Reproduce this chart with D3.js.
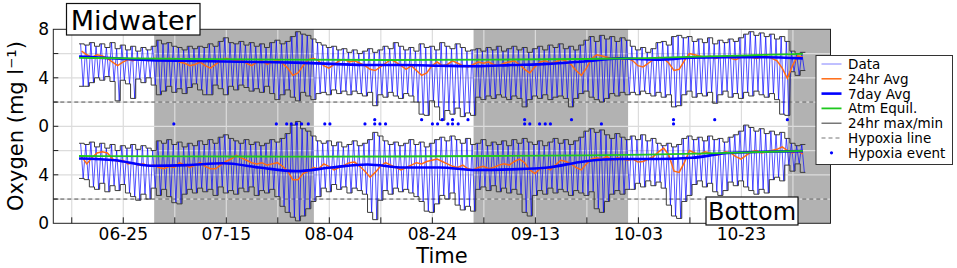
<!DOCTYPE html>
<html>
<head>
<meta charset="utf-8">
<script src="https://cdn.jsdelivr.net/npm/d3@7"></script>
<style>
  body { margin: 0; background: #fff; }
  text { font-family: "DejaVu Sans", sans-serif; }
</style>
</head>
<body>
<script>
const WIDTH = 957;
const HEIGHT = 268;

// --- data (one value per day, first day starts 2016-06-16 10:00) ---
const startTime = new Date(2016, 5, 16, 10);

// Midwater 24hr max / min
const topMax = [
  6.8, 6.7, 6.9, 6.6, 6.8, 6.5, 6.9, 6.4, 6.7, 6.3, 6.6, 6.2, 6.5, 6.3, 6.6,
  7.1, 6.8, 6.9, 6.6, 6.5, 6.3, 6.6, 6.4, 6.6, 6.5, 6.8, 6.6, 7.0, 7.3, 6.9, 6.8, 7.0, 6.7, 6.9, 6.6, 6.8, 6.5, 6.9, 7.1, 6.8, 7.0, 7.4, 7.8, 7.6, 7.5, 7.2, 6.9,
  6.7, 6.5, 6.6, 6.3, 6.4, 6.1, 6.3, 6.0, 6.2, 6.4, 6.1, 6.3, 6.6, 6.4, 6.9, 6.6, 6.3, 6.5, 6.2, 6.8, 6.5, 6.6, 6.3, 6.9, 6.6, 6.4, 6.8, 6.5, 6.2, 6.3,
  6.4, 6.2, 6.5, 6.3, 6.6, 6.2, 6.4, 6.6, 6.3, 6.5, 6.1, 6.4, 6.6, 6.3, 6.7, 6.5, 6.8, 6.4, 6.6, 6.3, 6.7, 7.1, 7.4, 7.0, 7.5, 7.2, 7.4, 7.0, 7.3, 7.1,
  6.6, 6.3, 6.5, 6.1, 6.4, 6.9, 7.0, 6.7, 7.4, 7.5, 7.3, 7.4, 7.0, 7.2, 6.9, 7.3, 6.8, 7.1, 6.9, 7.2, 7.0, 7.3, 7.6, 7.8, 7.5, 7.7, 7.4, 7.6, 7.2, 7.4, 7.0, 6.2, 6.0, 6.1
];
const topMin = [
  3.3, 3.3, 3.6, 4.0, 3.8, 4.1, 3.7, 2.1, 3.8, 3.5, 2.3, 3.9, 3.6, 4.0, 3.4,
  2.6, 2.9, 3.3, 2.8, 3.1, 2.7, 3.2, 3.5, 3.0, 2.6, 2.6, 3.4, 3.1, 2.6, 3.3, 3.0, 3.4, 3.2, 2.9, 3.1, 2.8, 3.3, 2.7, 2.2, 2.6, 3.0, 2.4, 2.1, 2.8, 2.5, 2.2, 2.7,
  2.8, 2.6, 3.0, 2.7, 2.9, 2.6, 2.9, 2.7, 2.5, 2.8, 1.7, 2.6, 2.4, 2.8, 2.5, 2.3, 2.7, 2.5, 2.0, 1.0, 0.9, 2.1, 1.6, 0.5, 1.3, 1.0, 1.5, 0.8, 1.1, 0.9,
  2.4, 2.2, 2.5, 2.3, 2.6, 2.4, 2.2, 2.5, 2.3, 1.6, 2.2, 2.5, 2.3, 2.6, 2.2, 2.4, 2.5, 2.3, 1.6, 2.3, 2.7, 2.9, 2.4, 2.2, 2.0, 2.3, 2.7, 2.5, 2.8, 2.6,
  2.8, 2.6, 2.9, 2.7, 2.5, 2.8, 2.4, 2.6, 1.6, 1.7, 2.6, 2.9, 2.4, 2.7, 2.5, 2.8, 1.9, 2.6, 2.9, 2.4, 2.7, 2.3, 2.8, 2.5, 2.9, 2.6, 2.4, 2.7, 2.2, 1.0, 0.9, 4.5, 4.2, 4.6
];
// Bottom 24hr max / min
const botMax = [
  6.6, 6.5, 6.7, 6.3, 6.6, 6.2, 6.5, 6.0, 6.4, 6.2, 6.5, 6.1, 6.4, 6.2, 6.0,
  6.8, 6.6, 6.9, 6.5, 6.7, 6.3, 6.6, 6.4, 6.8, 6.5, 6.9, 6.6, 7.1, 7.3, 7.0, 6.8, 6.6, 6.9, 6.5, 6.7, 6.4, 6.6, 6.9, 6.7, 7.0, 7.4, 8.1, 8.4, 7.8, 7.6, 7.2, 6.8,
  6.6, 6.8, 6.4, 6.7, 6.3, 6.5, 6.8, 6.4, 6.6, 6.9, 7.5, 7.2, 6.8, 6.5, 6.7, 6.4, 6.6, 6.9, 6.5, 6.7, 6.3, 6.6, 6.9, 7.1, 6.8, 7.2, 6.9, 6.6, 7.0, 6.5,
  6.6, 6.9, 6.4, 6.7, 6.5, 6.8, 6.4, 6.9, 6.6, 7.0, 6.7, 6.5, 6.8, 6.4, 6.7, 7.0, 6.6, 6.9, 6.5, 6.8, 7.1, 7.6, 7.8, 7.5, 7.7, 7.3, 7.0, 7.4, 7.1, 6.9,
  7.2, 6.9, 7.3, 6.8, 7.0, 6.6, 6.4, 6.6, 6.3, 6.5, 7.0, 7.2, 6.9, 7.1, 6.8, 7.2, 6.9, 7.0, 6.7, 7.1, 7.3, 7.6, 8.1, 7.9, 7.6, 7.8, 7.4, 7.6, 7.3, 7.5, 7.0, 6.6, 6.4, 6.5
];
const botMin = [
  3.7, 3.6, 3.0, 2.8, 3.3, 2.6, 3.1, 2.7, 3.2, 2.5, 2.2, 1.9, 2.4, 2.0, 2.9,
  2.3, 2.8, 2.2, 1.7, 1.6, 2.4, 2.8, 2.5, 2.9, 2.6, 2.8, 2.3, 3.0, 2.5, 2.7, 2.4, 2.9, 2.6, 3.0, 2.3, 2.7, 2.5, 2.8, 2.2, 1.4, 0.9, 0.5, 0.2, 0.6, 1.2, 1.8, 2.2,
  2.9, 2.6, 3.2, 2.8, 3.0, 2.5, 2.9, 2.7, 2.4, 0.9, 0.3, 1.9, 2.7, 2.4, 2.9, 2.6, 2.8, 2.5, 2.2, 1.8, 1.0, 0.9, 1.6, 2.3, 2.0, 2.5, 1.5, 1.1, 1.4, 1.0,
  2.8, 3.0, 2.7, 3.1, 2.6, 2.9, 2.5, 2.8, 2.4, 0.9, 0.6, 2.3, 2.7, 2.4, 2.9, 2.5, 2.8, 2.6, 2.3, 2.7, 2.5, 2.3, 2.6, 1.2, 0.9, 1.8, 2.4, 2.7, 2.4, 2.8,
  2.8, 3.3, 3.0, 3.5, 3.1, 3.4, 2.9, 1.5, 0.6, 0.4, 1.8, 2.3, 3.2, 3.5, 3.0, 3.3, 2.6, 2.3, 2.7, 3.4, 3.1, 3.5, 3.0, 2.7, 2.4, 2.8, 2.5, 3.6, 3.8, 3.5, 4.8, 4.3, 4.9, 4.2
];
// 24hr averages
const topAvg24 = [
  6.2, 5.9, 5.7, 5.9, 5.8, 5.6, 5.3, 5.0, 5.3, 5.5, 5.4, 5.6, 5.5, 5.4, 5.6,
  5.5, 5.4, 5.6, 5.5, 5.3, 5.2, 5.0, 5.1, 5.3, 5.0, 4.8, 5.1, 5.4, 5.6, 5.5, 5.4, 5.5, 5.2, 5.0, 5.3, 5.4, 5.1, 5.3, 5.5, 5.2, 4.8, 4.2, 4.4, 5.0, 5.5,
  5.6, 5.4, 5.0, 4.8, 5.1, 5.4, 5.5, 5.3, 5.4, 5.2, 5.0, 4.7, 4.6, 4.9, 5.2, 5.5, 5.3, 5.0, 4.7, 5.0, 4.6, 4.2, 4.4, 5.0, 5.3, 5.0, 5.1, 5.4, 5.2, 5.0, 4.9, 5.1,
  5.3, 5.2, 5.3, 5.1, 5.0, 5.2, 5.3, 5.4, 5.1, 4.7, 4.4, 4.9, 5.3, 5.4, 5.2, 5.3, 5.5, 5.4, 5.1, 4.6, 4.2, 4.8, 5.6, 5.9, 5.8, 5.7, 5.6, 5.7, 5.5, 5.6,
  5.4, 5.0, 4.9, 5.2, 5.5, 5.7, 5.6, 5.2, 4.6, 4.7, 5.4, 6.0, 5.9, 5.8, 5.7, 5.8, 5.6, 5.7, 5.8, 5.6, 5.5, 5.7, 5.8, 5.7, 5.6, 5.7, 5.8, 5.6, 5.4, 4.8, 3.95, 5.0, 5.8, 5.7
];
const botAvg24 = [
  5.5, 4.9, 5.4, 5.8, 5.9, 5.8, 5.3, 5.1, 5.2, 4.9, 5.0, 4.8, 4.9, 4.7, 4.8,
  4.6, 4.5, 4.7, 4.6, 5.0, 4.8, 4.6, 4.8, 5.0, 4.7, 4.5, 4.5, 4.8, 5.1, 5.3, 5.6, 5.4, 5.2, 5.0, 4.9, 5.0, 4.8, 4.9, 5.0, 4.7, 4.3, 3.6, 3.6, 4.1, 4.3,
  4.6, 4.5, 4.9, 4.7, 4.4, 4.6, 4.8, 5.0, 5.05, 4.7, 4.3, 3.8, 4.2, 4.7, 5.0, 4.8, 4.6, 4.4, 4.6, 4.8, 5.0, 4.9, 5.1, 5.2, 5.3, 5.1, 4.9, 4.7, 4.6, 4.8, 4.5, 4.4,
  4.6, 4.7, 4.5, 4.6, 4.8, 4.9, 4.8, 5.1, 5.3, 5.0, 4.4, 4.1, 4.5, 4.6, 4.4, 4.8, 5.2, 5.1, 4.9, 4.6, 4.4, 4.9, 5.3, 5.4, 5.3, 5.5, 5.2, 5.4, 5.3, 5.2,
  5.3, 5.05, 5.1, 5.3, 5.5, 5.9, 6.2, 5.6, 4.3, 4.2, 5.0, 6.0, 5.8, 5.7, 5.9, 5.8, 5.6, 5.7, 5.9, 5.8, 5.5, 5.3, 5.6, 5.9, 6.0, 5.8, 5.9, 6.0, 6.1, 6.3, 6.0, 5.8, 6.0, 5.7
];
// 7 day averages (day index, values)
const sevenDayIdx = [0, 7, 14, 21, 28, 35, 42, 49, 56, 63, 70, 77, 84, 91, 98, 105, 112, 119, 126, 133, 140.5];
const topSevenDay = [5.75, 5.6, 5.45, 5.4, 5.35, 5.3, 5.25, 5.15, 5.05, 5.05, 5.0, 4.95, 5.05, 5.15, 5.35, 5.6, 5.5, 5.65, 5.7, 5.7, 5.6];
const botSevenDay = [5.35, 5.2, 4.75, 4.8, 4.95, 4.6, 4.3, 4.6, 4.85, 4.6, 4.6, 4.4, 4.45, 4.6, 5.1, 5.3, 5.3, 5.4, 5.8, 5.9, 5.95];
// atmospheric equilibrium
const atmIdx = [0, 20, 40, 60, 80, 100, 110, 120, 130, 140.5];
const topAtm = [5.65, 5.55, 5.5, 5.45, 5.5, 5.55, 5.6, 5.75, 5.85, 5.98];
const botAtm = [5.55, 5.52, 5.5, 5.5, 5.55, 5.6, 5.65, 5.75, 5.85, 5.97];
// hypoxia events (day index), two rows
const hypoxiaLowDay = [18.4, 38.3, 40.3, 41.2, 42.2, 43.2, 44.5, 47.7, 48.7, 55.5, 57.4, 58.4, 59.5,
  68.6, 69.6, 71.6, 72.5, 73.6, 86.5, 87.5, 89.4, 90.5, 91.5, 101.4, 115.4];
const hypoxiaHighDay = [57.4, 66.5, 70.5, 72.5, 75.5, 86.5, 95.6, 115.4, 123.4, 137.5];
const hypoxiaLevels = [0.2, 0.55];
const hypoxiaLimit = 2;
const panelOffset = 8; // midwater drawn on top of bottom

const xTickLabels = ['06-25', '07-15', '08-04', '08-24', '09-13', '10-03', '10-23'];
const yTickValues = [0, 4, 8, 12, 16];
const legendLabels = ['Data', '24hr Avg', '7day Avg', 'Atm Equil.', '24hr max/min', 'Hypoxia line', 'Hypoxia event'];

// --- chart ---
const m = { left: 53.3, right: 830.5, top: 29.3, bottom: 223.3 };

const svg = d3.select('body').append('svg')
    .attr('width', WIDTH)
    .attr('height', HEIGHT);

const x = d3.scaleTime()
    .domain([new Date(2016, 5, 11, 10), new Date(2016, 10, 9, 7)])
    .range([m.left, m.right]);
const y = d3.scaleLinear()
    .domain([0, 16])
    .range([m.bottom, m.top]);

const DAY = 864e5;
const t = i => new Date(startTime.getTime() + i * DAY);

svg.append('clipPath').attr('id', 'plot')
  .append('rect')
    .attr('x', m.left).attr('y', m.top)
    .attr('width', m.right - m.left).attr('height', m.bottom - m.top);

const plot = svg.append('g').attr('clip-path', 'url(#plot)');

// month shading (odd months grey)
const months = d3.timeMonth.range(new Date(2016, 5, 1), new Date(2016, 11, 1));
months.forEach(mo => {
  if (mo.getMonth() % 2 === 0) {
    plot.append('rect')
        .attr('x', x(mo))
        .attr('y', m.top)
        .attr('width', x(d3.timeMonth.offset(mo, 1)) - x(mo))
        .attr('height', m.bottom - m.top)
        .attr('fill', '#b2b2b2');
  }
});

// grid
const tickDates = d3.range(0, 15).map(k => d3.timeDay.offset(new Date(2016, 5, 15), 10 * k));
plot.selectAll('.vgrid').data(tickDates).join('line')
    .attr('x1', d => x(d)).attr('x2', d => x(d))
    .attr('y1', m.top).attr('y2', m.bottom)
    .attr('stroke', '#dcdcdc').attr('stroke-width', 1.2);
plot.selectAll('.hgrid').data(d3.range(2, 16, 2)).join('line')
    .attr('x1', m.left).attr('x2', m.right)
    .attr('y1', d => y(d)).attr('y2', d => y(d))
    .attr('stroke', '#dcdcdc').attr('stroke-width', 1.2);

// hypoxia lines
[hypoxiaLimit, hypoxiaLimit + panelOffset].forEach(v => {
  plot.append('line')
      .attr('x1', m.left).attr('x2', m.right)
      .attr('y1', y(v)).attr('y2', y(v))
      .attr('stroke', '#555').attr('stroke-width', 1)
      .attr('stroke-dasharray', '4,3');
});

function drawPanel(maxs, mins, avg24, seven, atm, off) {
  // raw data: one swing per day between max and min
  const pts = [];
  maxs.forEach((v, i) => {
    pts.push([t(i + 0.3), v + off]);
    pts.push([t(i + 0.8), mins[i] + off]);
  });
  plot.append('path')
      .attr('d', d3.line().x(d => x(d[0])).y(d => y(d[1]))(pts))
      .attr('fill', 'none').attr('stroke', '#0000ff')
      .attr('stroke-width', 0.9).attr('stroke-opacity', 0.75);

  // max / min steps
  const step = d3.line().curve(d3.curveStepAfter)
      .x((d, i) => x(t(i))).y(d => y(d + off));
  [maxs, mins].forEach(arr => {
    plot.append('path')
        .attr('d', step(arr.concat([arr[arr.length - 1]])))
        .attr('fill', 'none').attr('stroke', '#3c3c3c').attr('stroke-width', 1);
  });

  // 24hr avg
  plot.append('path')
      .attr('d', d3.line()
          .x((d, i) => x(t(i + 0.5))).y(d => y(d + off))(avg24))
      .attr('fill', 'none').attr('stroke', '#ff6a13').attr('stroke-width', 1.5);

  // 7 day avg
  plot.append('path')
      .attr('d', d3.line().curve(d3.curveMonotoneX)
          .x((d, i) => x(t(sevenDayIdx[i]))).y(d => y(d + off))(seven))
      .attr('fill', 'none').attr('stroke', '#0000ff').attr('stroke-width', 2.6);

  // atm equilibrium
  plot.append('path')
      .attr('d', d3.line().curve(d3.curveBasis)
          .x((d, i) => x(t(atmIdx[i]))).y(d => y(d + off))(atm))
      .attr('fill', 'none').attr('stroke', '#1ec81e').attr('stroke-width', 1.8);
}

drawPanel(topMax, topMin, topAvg24, topSevenDay, topAtm, panelOffset);
drawPanel(botMax, botMin, botAvg24, botSevenDay, botAtm, 0);

// hypoxia events
[hypoxiaLowDay, hypoxiaHighDay].forEach((days, k) => {
  plot.selectAll(null).data(days).join('circle')
      .attr('cx', d => x(t(d)))
      .attr('cy', y(panelOffset + hypoxiaLevels[k]))
      .attr('r', 1.6)
      .attr('fill', '#0000ff');
});

// frame
svg.append('rect')
    .attr('x', m.left).attr('y', m.top)
    .attr('width', m.right - m.left).attr('height', m.bottom - m.top)
    .attr('fill', 'none').attr('stroke', '#222').attr('stroke-width', 1);

// x axis (ticks inside)
svg.selectAll('.xt').data(tickDates.filter(d => x(d) > m.left && x(d) < m.right)).join('line')
    .attr('x1', d => x(d)).attr('x2', d => x(d))
    .attr('y1', m.bottom).attr('y2', m.bottom - 6)
    .attr('stroke', '#222');
const parseTick = d3.timeParse('%Y-%m-%d');
svg.selectAll('.xl').data(xTickLabels).join('text')
    .attr('x', d => x(parseTick('2016-' + d)))
    .attr('y', 240)
    .attr('text-anchor', 'middle')
    .attr('font-size', 17)
    .text(d => d);

// y axis (ticks inside)
svg.selectAll('.yt').data(d3.range(2, 16, 2)).join('line')
    .attr('x1', m.left).attr('x2', m.left + 5)
    .attr('y1', d => y(d)).attr('y2', d => y(d))
    .attr('stroke', '#222');
svg.selectAll('.yl').data(yTickValues).join('text')
    .attr('x', 49)
    .attr('y', d => y(d) + 6)
    .attr('text-anchor', 'end')
    .attr('font-size', 17)
    .text(d => d >= panelOffset ? d - panelOffset : d);

svg.append('text')
    .attr('x', 442).attr('y', 263)
    .attr('text-anchor', 'middle')
    .attr('font-size', 21)
    .text('Time');
svg.append('text')
    .attr('transform', 'translate(23,126) rotate(-90)')
    .attr('text-anchor', 'middle')
    .attr('font-size', 21)
    .text('Oxygen (mg l⁻¹)');

// panel labels
function labelBox(txt, bx, by, bw, bh, fs, base) {
  svg.append('rect')
      .attr('x', bx).attr('y', by).attr('width', bw).attr('height', bh)
      .attr('fill', '#fff').attr('stroke', '#111').attr('stroke-width', 1.2);
  svg.append('text')
      .attr('x', bx + bw / 2).attr('y', base)
      .attr('text-anchor', 'middle')
      .attr('font-size', fs)
      .text(txt);
}
labelBox('Midwater', 66.5, 3.5, 133.5, 31.5, 27, 29.5);
labelBox('Bottom', 706, 197, 92, 28, 24, 219.5);

// legend
const lg = svg.append('g').attr('transform', 'translate(816,55.5)');
lg.append('rect')
    .attr('width', 136.5).attr('height', 109)
    .attr('fill', '#fff').attr('stroke', '#333').attr('stroke-width', 1);
const legendStyles = [
  { c: '#8080ff', w: 1 },
  { c: '#ff6a13', w: 1.5 },
  { c: '#0000ff', w: 2.6 },
  { c: '#1ec81e', w: 1.8 },
  { c: '#555', w: 1.2 },
  { c: '#777', w: 1.2, dash: '4,3' },
  { dot: true }
];
legendLabels.forEach((lab, i) => {
  const yy = 8.5 + i * 14.8;
  const s = legendStyles[i];
  if (s.dot) {
    lg.append('circle').attr('cx', 15.5).attr('cy', yy).attr('r', 1.6).attr('fill', '#0000ff');
  } else {
    lg.append('line')
        .attr('x1', 5.5).attr('x2', 25.5).attr('y1', yy).attr('y2', yy)
        .attr('stroke', s.c).attr('stroke-width', s.w)
        .attr('stroke-dasharray', s.dash || null);
  }
  lg.append('text')
      .attr('x', 32).attr('y', yy + 5)
      .attr('font-size', 13.5)
      .text(lab);
});
</script>
</body>
</html>
